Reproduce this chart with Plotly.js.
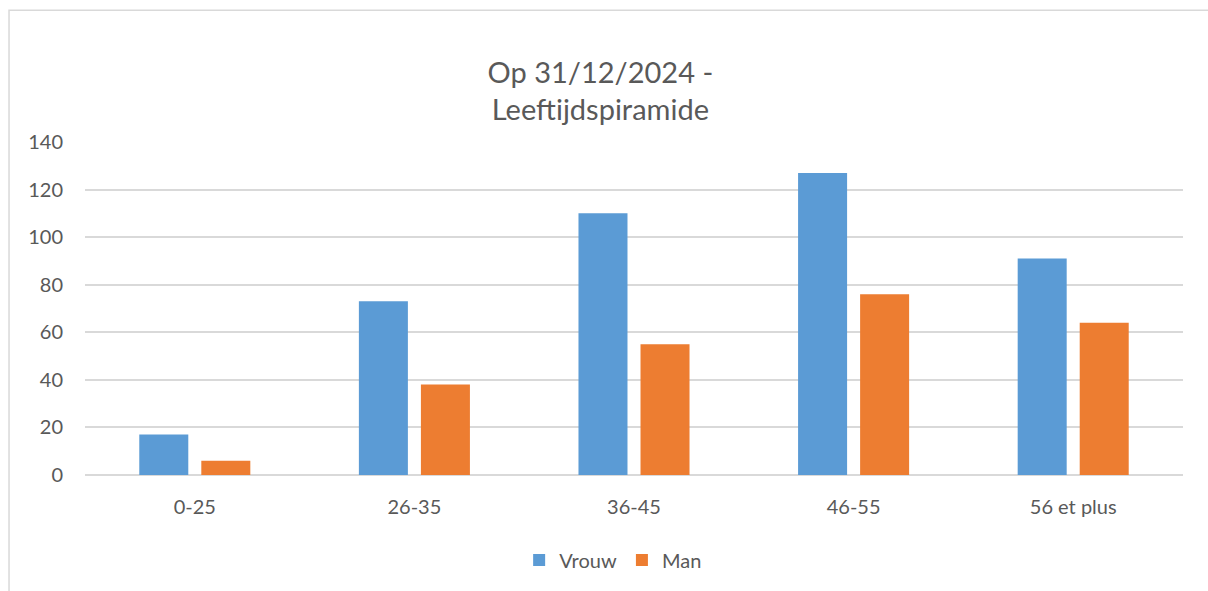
<!DOCTYPE html>
<html>
<head>
<meta charset="utf-8">
<script src="https://cdn.plot.ly/plotly-3.0.1.min.js"></script>
<style>
html,body{margin:0;padding:0;background:#fff;}
#chart{width:1208px;height:591px;}
</style>
</head>
<body>
<div id="chart"></div>
<script>
const categories = ["0-25", "26-35", "36-45", "46-55", "56 et plus"];
const vrouw = [17, 73, 110, 127, 91];
const man = [6, 38, 55, 76, 64];
const seriesNames = ["Vrouw", "Man"];
const yTicks = [0, 20, 40, 60, 80, 100, 120, 140];

const fontFam = "Lato, 'Open Sans', sans-serif";
const textColor = "#595959";

const traces = [
  {type: "bar", name: seriesNames[0], x: categories, y: vrouw,
   marker: {color: "#5b9bd5"}, hoverinfo: "x+y+name"},
  {type: "bar", name: seriesNames[1], x: categories, y: man,
   marker: {color: "#ed7d31"}, hoverinfo: "x+y+name"}
];

const layout = {
  width: 1208, height: 591,
  margin: {l: 85, r: 25, t: 142, b: 116},
  paper_bgcolor: "#ffffff",
  plot_bgcolor: "#ffffff",
  font: {family: fontFam, color: textColor, size: 20},
  title: {
    text: "Op 31/12/2024 -<br>Leeftijdspiramide",
    font: {family: fontFam, size: 29, color: textColor},
    x: 0.497, xanchor: "center",
    y: 0.86, yanchor: "middle", yref: "container"
  },
  barmode: "group",
  bargap: 0.435,
  bargroupgap: 0.21,
  xaxis: {
    type: "category",
    showgrid: false,
    showline: false,
    ticks: "",
    ticklabelstandoff: 18,
    tickfont: {family: fontFam, size: 20, color: textColor},
    fixedrange: true
  },
  yaxis: {
    range: [0, 140],
    tickvals: yTicks,
    ticktext: yTicks.map(String),
    showgrid: true,
    gridcolor: "#d9d9d9",
    gridwidth: 1.5,
    zeroline: true,
    zerolinecolor: "#d9d9d9",
    zerolinewidth: 1.5,
    showline: false,
    ticks: "",
    ticklabelstandoff: 21,
    tickfont: {family: fontFam, size: 20, color: textColor},
    fixedrange: true
  },
  showlegend: true,
  legend: {
    orientation: "h",
    x: 0.481, xanchor: "center",
    y: -0.255, yanchor: "middle",
    font: {family: fontFam, size: 20, color: textColor},
    itemwidth: 30,
    traceorder: "normal"
  },
  shapes: [{
    type: "rect", xref: "paper", yref: "paper",
    x0: -0.0692, x1: 1.2, y0: -1, y1: 1.396,
    line: {color: "#d9d9d9", width: 1.5},
    fillcolor: "rgba(0,0,0,0)",
    layer: "below"
  }]
};

Plotly.newPlot("chart", traces, layout, {displayModeBar: false, staticPlot: false});
</script>
</body>
</html>
